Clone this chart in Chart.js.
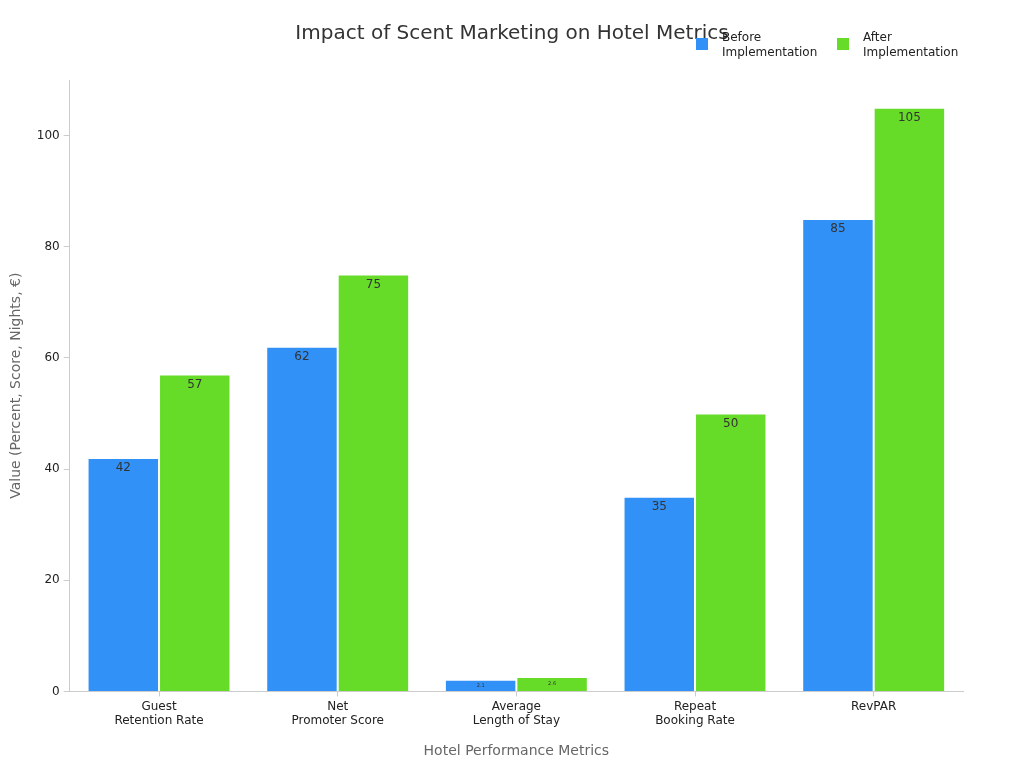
<!DOCTYPE html>
<html>
<head>
<meta charset="utf-8">
<script src="https://cdn.jsdelivr.net/npm/chart.js@4.4.1/dist/chart.umd.min.js"></script>
<style>
  html, body { margin: 0; padding: 0; background: #fff; }
  #wrap { width: 1024px; height: 768px; }
</style>
</head>
<body>
<div id="wrap"><canvas id="scentChart" width="1024" height="768"></canvas></div>
<script>
// metrics and values
const categories = [
    ['Guest', 'Retention Rate'],
    ['Net', 'Promoter Score'],
    ['Average', 'Length of Stay'],
    ['Repeat', 'Booking Rate'],
    ['RevPAR']
];
const beforeValues = [42, 62, 2.1, 35, 85];
const afterValues = [57, 75, 2.6, 50, 105];
const seriesNames = [['Before', 'Implementation'], ['After', 'Implementation']];
const seriesColors = ['#3191f7', '#66dc29'];
const chartTitle = 'Impact of Scent Marketing on Hotel Metrics';

const FONT = '"DejaVu Sans", "Noto Sans", sans-serif';

// value labels inside the top of each bar
const barLabels = {
    id: 'barLabels',
    afterDatasetsDraw(chart) {
        const ctx = chart.ctx;
        ctx.save();
        ctx.textAlign = 'center';
        ctx.textBaseline = 'middle';
        ctx.fillStyle = '#333';
        chart.data.datasets.forEach(function (ds, i) {
            chart.getDatasetMeta(i).data.forEach(function (bar, j) {
                const h = bar.base - bar.y;
                const small = h < 20;
                ctx.font = (small ? 5 : 12) + 'px ' + FONT;
                ctx.fillText(String(ds.data[j]), bar.x, small ? bar.y + h / 2 : bar.y + 10);
            });
        });
        ctx.restore();
    }
};

// title centred on the page, legend top-right with two-line labels
const headerBits = {
    id: 'headerBits',
    afterDraw(chart) {
        const ctx = chart.ctx;
        ctx.save();
        ctx.textBaseline = 'middle';
        ctx.textAlign = 'center';
        ctx.fillStyle = '#333';
        ctx.font = '20px ' + FONT;
        ctx.fillText(chartTitle, chart.width / 2, 34);

        ctx.font = '12px ' + FONT;
        ctx.textAlign = 'left';
        const xs = [696, 837];
        seriesNames.forEach(function (name, i) {
            ctx.fillStyle = seriesColors[i];
            ctx.fillRect(xs[i], 38, 12, 12);
            ctx.fillStyle = '#222';
            ctx.fillText(name[0], xs[i] + 26, 38);
            ctx.fillText(name[1], xs[i] + 26, 53);
        });
        ctx.restore();
    }
};

new Chart(document.getElementById('scentChart').getContext('2d'), {
    type: 'bar',
    data: {
        labels: categories,
        datasets: [
            {
                label: 'Before Implementation',
                data: beforeValues,
                backgroundColor: seriesColors[0],
                borderColor: '#ffffff',
                borderWidth: 1,
                categoryPercentage: 0.8,
                barPercentage: 1.0
            },
            {
                label: 'After Implementation',
                data: afterValues,
                backgroundColor: seriesColors[1],
                borderColor: '#ffffff',
                borderWidth: 1,
                categoryPercentage: 0.8,
                barPercentage: 1.0
            }
        ]
    },
    options: {
        responsive: false,
        devicePixelRatio: 1,
        animation: false,
        layout: { padding: { left: 4, right: 61, top: 80, bottom: 4 } },
        plugins: {
            legend: { display: false },
            tooltip: { enabled: false },
            title: { display: false }
        },
        scales: {
            x: {
                grid: { display: true, offset: false, drawOnChartArea: false, tickLength: 5, color: '#ccc' },
                border: { color: '#ccc' },
                ticks: { color: '#222', font: { family: FONT, size: 12 }, maxRotation: 0, padding: 3 },
                title: {
                    display: true,
                    text: 'Hotel Performance Metrics',
                    color: '#666',
                    font: { family: FONT, size: 14 },
                    padding: { top: 12 }
                }
            },
            y: {
                min: 0,
                max: 110,
                afterBuildTicks: function (axis) {
                    axis.ticks = axis.ticks.filter(function (t) { return t.value % 20 === 0; });
                },
                grid: { display: true, drawOnChartArea: false, tickLength: 6, color: '#ccc' },
                border: { color: '#ccc' },
                ticks: { stepSize: 20, color: '#222', font: { family: FONT, size: 12 }, padding: 4 },
                title: {
                    display: true,
                    text: 'Value (Percent, Score, Nights, €)',
                    color: '#666',
                    font: { family: FONT, size: 14 },
                    padding: { bottom: 8 }
                }
            }
        }
    },
    plugins: [barLabels, headerBits]
});
</script>
</body>
</html>
